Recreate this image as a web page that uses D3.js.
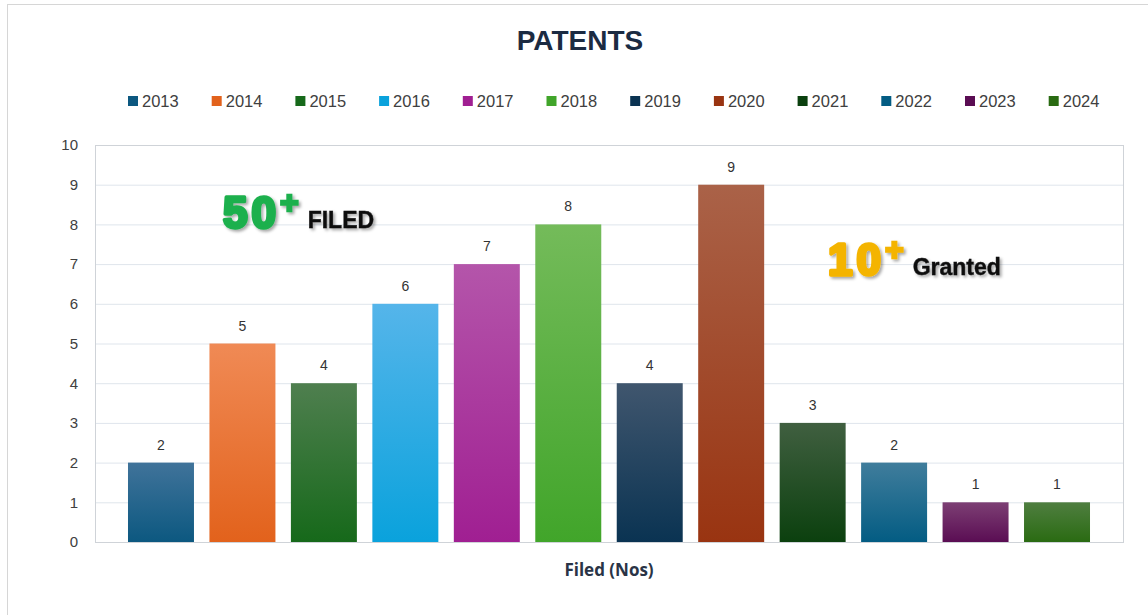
<!DOCTYPE html>
<html>
<head>
<meta charset="utf-8">
<script src="https://cdn.jsdelivr.net/npm/d3@7"></script>
<style>
  body { margin: 0; background: #fff; }
  svg { display: block; }
</style>
</head>
<body>
<div id="chart-area"></div>
<script>

// data
var years = ["2013", "2014", "2015", "2016", "2017", "2018", "2019", "2020", "2021", "2022", "2023", "2024"];
var filed = [2, 5, 4, 6, 7, 8, 4, 9, 3, 2, 1, 1];
var yTicks = [0, 1, 2, 3, 4, 5, 6, 7, 8, 9, 10];

// gradient colours (top, bottom) per year
var topColors = ["#40739a", "#f08a55", "#4f7f4f", "#55b5ea", "#b455aa", "#74bb5a", "#40566e", "#aa6248", "#405f40", "#407d9c", "#7d3f74", "#4f7e40"];
var botColors = ["#0c5880", "#e2621c", "#16691a", "#0aa2dc", "#a01f92", "#41a52a", "#0a3352", "#993411", "#0b400e", "#035c83", "#5a0d53", "#2a6b12"];

var W = 1148, H = 615;
var plotLeft = 95, plotRight = 1123, plotTop = 145, plotBottom = 542;

var svg = d3.select("#chart-area")
  .append("svg")
  .attr("width", W)
  .attr("height", H);

var defs = svg.append("defs");

years.forEach(function(y, i) {
  var g = defs.append("linearGradient")
    .attr("id", "grad" + i)
    .attr("x1", 0).attr("y1", 0).attr("x2", 0).attr("y2", 1);
  g.append("stop").attr("offset", "0%").attr("stop-color", topColors[i]);
  g.append("stop").attr("offset", "100%").attr("stop-color", botColors[i]);
});

var shadow = defs.append("filter").attr("id", "shadow")
  .attr("x", "-10%").attr("y", "-20%").attr("width", "130%").attr("height", "150%");
shadow.append("feDropShadow")
  .attr("dx", 2).attr("dy", 2).attr("stdDeviation", 1.5)
  .attr("flood-color", "#000").attr("flood-opacity", 0.35);

// outer frame
svg.append("rect")
  .attr("x", 7.5).attr("y", 4.5)
  .attr("width", 1300).attr("height", 700)
  .attr("fill", "none")
  .attr("stroke", "#d6d6d6");

// scales
var x = d3.scaleBand()
  .domain(years)
  .range([plotLeft, plotRight])
  .paddingInner(0.19)
  .paddingOuter(0.405);

var y = d3.scaleLinear()
  .domain([0, 10])
  .range([plotBottom, plotTop]);

// gridlines
svg.append("g")
  .selectAll("line")
  .data(yTicks)
  .enter()
  .append("line")
  .attr("x1", plotLeft).attr("x2", plotRight)
  .attr("y1", function(d) { return y(d) + 0.5; })
  .attr("y2", function(d) { return y(d) + 0.5; })
  .attr("stroke", "#dfe5ec");

// plot border
svg.append("rect")
  .attr("x", plotLeft + 0.5).attr("y", plotTop + 0.5)
  .attr("width", plotRight - plotLeft).attr("height", plotBottom - plotTop)
  .attr("fill", "none")
  .attr("stroke", "#cfd3d8");

// y axis labels
var yAxis = d3.axisLeft(y)
  .tickValues(yTicks)
  .tickSize(0)
  .tickPadding(17);

var gy = svg.append("g")
  .attr("transform", "translate(" + plotLeft + ",0)")
  .call(yAxis);
gy.select(".domain").remove();
gy.selectAll("text")
  .attr("font-family", "Liberation Sans, Arial, sans-serif")
  .attr("font-size", 15)
  .attr("fill", "#404040");

// bars
svg.selectAll("rect.bar")
  .data(filed)
  .enter()
  .append("rect")
  .attr("class", "bar")
  .attr("x", function(d, i) { return x(years[i]); })
  .attr("y", function(d) { return y(d); })
  .attr("width", x.bandwidth())
  .attr("height", function(d) { return y(0) - y(d); })
  .attr("fill", function(d, i) { return "url(#grad" + i + ")"; });

// value labels
svg.selectAll("text.val")
  .data(filed)
  .enter()
  .append("text")
  .attr("class", "val")
  .attr("x", function(d, i) { return x(years[i]) + x.bandwidth() / 2; })
  .attr("y", function(d) { return y(d) - 13; })
  .attr("text-anchor", "middle")
  .attr("font-family", "Liberation Sans, Arial, sans-serif")
  .attr("font-size", 14)
  .attr("fill", "#333")
  .text(function(d) { return d; });

// title
svg.append("text")
  .attr("x", 580).attr("y", 50)
  .attr("text-anchor", "middle")
  .attr("font-family", "Liberation Sans, Arial, sans-serif")
  .attr("font-weight", "bold")
  .attr("font-size", 28)
  .attr("fill", "#1b2b42")
  .text("PATENTS");

// legend
var legendStep = 83.7;
var legend = svg.selectAll("g.legend")
  .data(years)
  .enter()
  .append("g")
  .attr("class", "legend")
  .attr("transform", function(d, i) { return "translate(" + (128 + i * legendStep) + ",96)"; });

legend.append("rect")
  .attr("width", 10).attr("height", 10)
  .attr("fill", function(d, i) { return botColors[i]; });

legend.append("text")
  .attr("x", 14).attr("y", 11)
  .attr("font-family", "Liberation Sans, Arial, sans-serif")
  .attr("font-size", 16.5)
  .attr("fill", "#404040")
  .text(function(d) { return d; });

// x axis title
svg.append("text")
  .attr("x", 609).attr("y", 576)
  .attr("text-anchor", "middle")
  .attr("font-family", "Open Sans, sans-serif")
  .attr("font-weight", "bold")
  .attr("font-size", 17)
  .attr("fill", "#2a3446")
  .text("Filed (Nos)");

// annotations
function badge(bx, by, big, small, color) {
  var g = svg.append("g").attr("filter", "url(#shadow)");
  var t = g.append("text")
    .attr("x", bx).attr("y", by)
    .attr("font-family", "Liberation Sans, Arial, sans-serif")
    .attr("font-weight", "bold");
  t.append("tspan")
    .attr("font-size", 44)
    .attr("fill", color)
    .attr("stroke", color)
    .attr("stroke-width", 3.5)
    .attr("stroke-linejoin", "round")
    .attr("letter-spacing", 4)
    .text(big);
  t.append("tspan")
    .attr("font-size", 32)
    .attr("dy", -15)
    .attr("dx", 0)
    .attr("fill", color)
    .attr("stroke", color)
    .attr("stroke-width", 2.5)
    .text("+");
  t.append("tspan")
    .attr("font-size", 23)
    .attr("dy", 15)
    .attr("dx", 9)
    .attr("fill", "#111")
    .attr("stroke", "#111")
    .attr("stroke-width", 0.4)
    .text(small);
}

badge(223, 228, "50", "FILED", "#1fb04d");
badge(828, 275, "10", "Granted", "#f4b400");

</script>
</body>
</html>
